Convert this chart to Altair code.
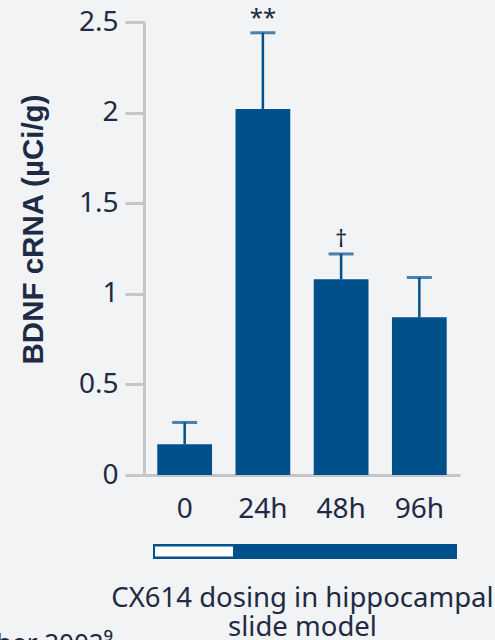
import altair as alt
import pandas as pd

# BDNF cRNA levels after CX614 dosing
timepoints = ["0", "24h", "48h", "96h"]
bdnf_mean = [0.17, 2.02, 1.08, 0.87]
bdnf_sem = [0.12, 0.42, 0.14, 0.22]
significance = ["", "**", "†", ""]

df = pd.DataFrame({
    "time": timepoints,
    "mean": bdnf_mean,
    "sem": bdnf_sem,
    "sig": significance,
})
df["upper"] = df["mean"] + df["sem"]

BLUE = "#00508C"
TEXT = "#1F2A44"
GRID = "#C6C6C6"
BG = "#F2F3F5"
FONT = "Noto Sans"

x_enc = alt.X(
    "time:N",
    sort=timepoints,
    scale=alt.Scale(paddingInner=0.3, paddingOuter=0.17),
    axis=alt.Axis(
        title=["CX614 dosing in hippocampal", "slide model"],
        titleFontSize=27.5,
        titleFontWeight="normal",
        titleColor=TEXT,
        titleFont=FONT,
        titlePadding=61,
        titleLineHeight=29.5,
        labelFontSize=28,
        labelFont=FONT,
        labelColor=TEXT,
        labelAngle=0,
        labelPadding=20,
        ticks=False,
        domainColor=GRID,
        domainWidth=3,
    ),
)

y_scale = alt.Scale(domain=[0, 2.5], nice=False)

base = alt.Chart(df)

bars = base.mark_bar(color=BLUE).encode(
    x=x_enc,
    y=alt.Y(
        "mean:Q",
        scale=y_scale,
        axis=alt.Axis(
            title="BDNF cRNA (µCi/g)",
            titleFont="Liberation Sans",
            titleFontSize=29.5,
            titleFontWeight="bold",
            titleColor=TEXT,
            titleX=-111,
            titleY=207,
            titleAlign="center",
            titleBaseline="middle",
            values=[0, 0.5, 1, 1.5, 2, 2.5],
            labelExpr="datum.value == 0 ? '0' : format(datum.value, '.2~f')",
            labelFontSize=28,
            labelFont=FONT,
            labelColor=TEXT,
            labelPadding=7,
            tickSize=19,
            tickColor=GRID,
            tickWidth=3,
            domainColor=GRID,
            domainWidth=3,
            grid=False,
        ),
    ),
)

err_rule = base.mark_rule(color=BLUE, strokeWidth=2.5).encode(
    x=alt.X("time:N", sort=timepoints),
    y=alt.Y("mean:Q", scale=y_scale),
    y2="upper:Q",
)

err_cap = base.mark_tick(color=BLUE, thickness=3, size=25, orient="horizontal").encode(
    x=alt.X("time:N", sort=timepoints),
    y=alt.Y("upper:Q", scale=y_scale),
)

sig_text = base.mark_text(
    font=FONT, fontSize=24, color=TEXT, dy=-14, baseline="middle"
).encode(
    x=alt.X("time:N", sort=timepoints),
    y=alt.Y("upper:Q", scale=y_scale),
    text="sig:N",
)

# Dosing timeline strip below the axis labels: washout segment then CX614 exposure
strip = alt.Chart(pd.DataFrame({"k": [0]}))
strip_outer = strip.mark_rect(color=BLUE).encode(
    x=alt.value(9), x2=alt.value(313), y=alt.value(522), y2=alt.value(537)
)
strip_inner = strip.mark_rect(color="white").encode(
    x=alt.value(11), x2=alt.value(89), y=alt.value(524.5), y2=alt.value(534.5)
)

# Trailing citation line
cite = strip.mark_text(
    font=FONT, fontSize=26, color=TEXT, align="left", baseline="alphabetic"
).encode(x=alt.value(-148), y=alt.value(630), text=alt.value("ber 2002⁹"))

chart = (
    alt.layer(bars, err_rule, err_cap, sig_text, strip_outer, strip_inner, cite)
    .properties(
        width=316,
        height=453,
        background=BG,
        autosize=alt.AutoSizeParams(type="none"),
        padding={"left": 144, "top": 22, "right": 35, "bottom": 165},
    )
    .configure_view(stroke=None)
)

chart.save("out.html", embed_options={"renderer": "svg", "actions": False})
